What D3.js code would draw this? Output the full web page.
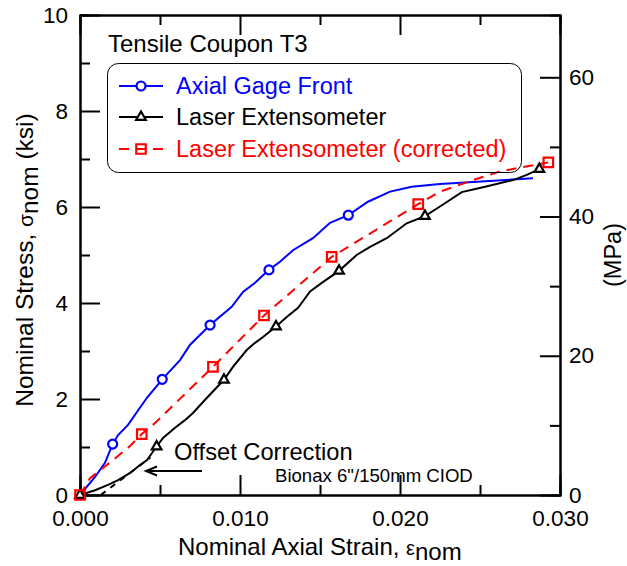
<!DOCTYPE html>
<html>
<head>
<meta charset="utf-8">
<script src="https://cdn.jsdelivr.net/npm/d3@7"></script>
<style>
  body { margin: 0; background: #fff; }
  svg { font-family: "Liberation Sans", Arial, sans-serif; }
</style>
</head>
<body>
<svg id="chart" width="627" height="566"></svg>
<script>
// strain (in/in), stress (ksi)
const gageFront = [
  [0, 0], [0.00094, 0.375], [0.00156, 0.67], [0.00204, 1.06], [0.00238, 1.25],
  [0.0030, 1.46], [0.00417, 2.02], [0.00514, 2.41], [0.00625, 2.81], [0.00688, 3.13],
  [0.00813, 3.54], [0.00948, 3.92], [0.01019, 4.23], [0.01094, 4.42], [0.01181, 4.69],
  [0.0125, 4.86], [0.01331, 5.10], [0.01456, 5.35], [0.01563, 5.67], [0.01677, 5.83],
  [0.018, 6.11], [0.01938, 6.32], [0.02073, 6.42], [0.0225, 6.48], [0.02456, 6.52],
  [0.02831, 6.60],
];
const gageMarks = [[0.00204, 1.06], [0.00514, 2.41], [0.00813, 3.54], [0.01181, 4.69], [0.01677, 5.83]];

const laserExt = [
  [0, 0], [0.00094, 0.10], [0.00175, 0.21], [0.00238, 0.31], [0.00313, 0.46],
  [0.00375, 0.625], [0.00419, 0.73], [0.0045, 0.875], [0.00479, 1.01], [0.00519, 1.19],
  [0.00594, 1.40], [0.00656, 1.56], [0.00706, 1.71], [0.00792, 2.02], [0.009, 2.40],
  [0.00956, 2.67], [0.01042, 3.02], [0.01094, 3.17], [0.01144, 3.29], [0.01225, 3.51],
  [0.01292, 3.71], [0.01363, 3.90], [0.01438, 4.24], [0.01511, 4.42], [0.01619, 4.67],
  [0.01729, 5.00], [0.01813, 5.17], [0.01917, 5.35], [0.02042, 5.66], [0.02156, 5.81],
  [0.0225, 6.01], [0.02386, 6.31], [0.02519, 6.41], [0.02706, 6.56], [0.02792, 6.67],
  [0.02871, 6.79],
];
const laserMarks = [[0, 0], [0.00479, 1.01], [0.009, 2.40], [0.01225, 3.51], [0.01619, 4.67], [0.02156, 5.81], [0.02871, 6.79]];

const laserCorr = [
  [0, 0], [0.000625, 0.35], [0.002, 0.71], [0.003125, 1.02], [0.00386, 1.27],
  [0.00469, 1.50], [0.00831, 2.67], [0.0115, 3.74], [0.01573, 4.96], [0.02114, 6.06],
  [0.0225, 6.32], [0.02456, 6.56], [0.02625, 6.74], [0.0275, 6.82], [0.02927, 6.93],
];
const corrMarks = [[0, 0], [0.00386, 1.27], [0.00831, 2.67], [0.0115, 3.74], [0.01573, 4.96], [0.02114, 6.06], [0.02927, 6.93]];

// dashed offset line, laser curve shifted back to zero
const offsetLine = [[0.0013, 0], [0.0044, 0.78]];

const xMajor = [0, 0.01, 0.02, 0.03];
const xMinor = [0.005, 0.015, 0.025];
const yMajor = [0, 2, 4, 6, 8, 10];
const yMinor = [1, 3, 5, 7, 9];
const mpaMajor = [0, 20, 40, 60];
const mpaMinor = [10, 30, 50];
const legendLabels = ['Axial Gage Front', 'Laser Extensometer', 'Laser Extensometer (corrected)'];
const KSI_TO_MPA = 6.89476;

const svg = d3.select('#chart');
const margin = { left: 80, right: 560, top: 15, bottom: 495 };

const x = d3.scaleLinear([0, 0.03], [margin.left, margin.right]);
const y = d3.scaleLinear([0, 10], [margin.bottom, margin.top]);
const yMpa = d3.scaleLinear([0, 10 * KSI_TO_MPA], [margin.bottom, margin.top]);

const styleAxis = (g) => g
  .call((a) => a.select('.domain').attr('stroke-width', 2))
  .call((a) => a.selectAll('.tick line').attr('stroke-width', 2))
  .call((a) => a.selectAll('.tick text')
    .attr('font-size', 22.5)
    .attr('font-family', '"Liberation Sans", Arial, sans-serif')
    .attr('fill', '#000'));

// minor ticks first
svg.append('g').attr('transform', `translate(0,${margin.bottom})`)
  .call(d3.axisBottom(x).tickValues(xMinor).tickSize(-10).tickFormat(''))
  .call(styleAxis);
svg.append('g').attr('transform', `translate(0,${margin.top})`)
  .call(d3.axisTop(x).tickValues(xMinor).tickSize(-10).tickFormat(''))
  .call(styleAxis);
svg.append('g').attr('transform', `translate(${margin.left},0)`)
  .call(d3.axisLeft(y).tickValues(yMinor).tickSize(-10).tickFormat(''))
  .call(styleAxis);
svg.append('g').attr('transform', `translate(${margin.right},0)`)
  .call(d3.axisRight(yMpa).tickValues(mpaMinor).tickSize(-10).tickFormat(''))
  .call(styleAxis);

// major ticks + labels
svg.append('g').attr('transform', `translate(0,${margin.bottom})`)
  .call(d3.axisBottom(x).tickValues(xMajor).tickSizeInner(-20).tickSizeOuter(0)
    .tickPadding(15).tickFormat(d3.format('.3f')))
  .call(styleAxis);
svg.append('g').attr('transform', `translate(0,${margin.top})`)
  .call(d3.axisTop(x).tickValues(xMajor).tickSizeInner(-20).tickSizeOuter(0).tickFormat(''))
  .call(styleAxis);
svg.append('g').attr('transform', `translate(${margin.left},0)`)
  .call(d3.axisLeft(y).tickValues(yMajor).tickSizeInner(-20).tickSizeOuter(0).tickPadding(12))
  .call(styleAxis);
svg.append('g').attr('transform', `translate(${margin.right},0)`)
  .call(d3.axisRight(yMpa).tickValues(mpaMajor).tickSizeInner(-20).tickSizeOuter(0).tickPadding(9))
  .call(styleAxis);

// axis titles
svg.append('text')
  .attr('x', 178).attr('y', 555)
  .attr('font-size', 24)
  .call((t) => t.append('tspan').text('Nominal Axial Strain, '))
  .call((t) => t.append('tspan').attr('font-size', 20).text('ε'))
  .call((t) => t.append('tspan').attr('dy', 5).text('nom'));

svg.append('text')
  .attr('transform', 'translate(33,260) rotate(-90)')
  .attr('text-anchor', 'middle')
  .attr('font-size', 24.5)
  .call((t) => t.append('tspan').text('Nominal Stress, '))
  .call((t) => t.append('tspan').attr('font-size', 21).text('σ'))
  .call((t) => t.append('tspan').attr('dy', 5).text('nom'))
  .call((t) => t.append('tspan').attr('dy', -5).text(' (ksi)'));

svg.append('text')
  .attr('transform', 'translate(621,255) rotate(-90)')
  .attr('text-anchor', 'middle')
  .attr('font-size', 23.5)
  .text('(MPa)');

// curves
const line = d3.line().x((d) => x(d[0])).y((d) => y(d[1]));

svg.append('path')
  .datum(offsetLine)
  .attr('d', line)
  .attr('fill', 'none')
  .attr('stroke', '#000')
  .attr('stroke-width', 2)
  .attr('stroke-dasharray', '6,6');

svg.append('path')
  .datum(gageFront)
  .attr('d', line)
  .attr('fill', 'none')
  .attr('stroke', '#0000ff')
  .attr('stroke-width', 2);

svg.append('path')
  .datum(laserExt)
  .attr('d', line)
  .attr('fill', 'none')
  .attr('stroke', '#000')
  .attr('stroke-width', 2);

svg.append('path')
  .datum(laserCorr)
  .attr('d', line)
  .attr('fill', 'none')
  .attr('stroke', '#ff0000')
  .attr('stroke-width', 2)
  .attr('stroke-dasharray', '10,7');

// markers
const marks = [
  { data: gageMarks, sym: d3.symbolCircle, size: 64, color: '#0000ff', fill: '#fff' },
  { data: laserMarks, sym: d3.symbolTriangle, size: 40, color: '#000', fill: '#fff' },
  { data: corrMarks, sym: d3.symbolSquare, size: 90, color: '#ff0000', fill: 'none' },
];
marks.forEach((m) => {
  svg.append('g')
    .selectAll('path')
    .data(m.data)
    .join('path')
    .attr('transform', (d) => `translate(${x(d[0])},${y(d[1])})`)
    .attr('d', d3.symbol(m.sym, m.size))
    .attr('fill', m.fill)
    .attr('stroke', m.color)
    .attr('stroke-width', 2.2);
});

// title + legend
svg.append('text')
  .attr('x', 108).attr('y', 52)
  .attr('font-size', 24)
  .text('Tensile Coupon T3');

svg.append('rect')
  .attr('x', 107.5).attr('y', 63.5)
  .attr('width', 414).attr('height', 109)
  .attr('rx', 11)
  .attr('fill', 'none')
  .attr('stroke', '#000')
  .attr('stroke-width', 1);

const legendRows = [86, 117, 149];
legendLabels.forEach((label, i) => {
  const m = marks[i];
  const ly = legendRows[i];
  svg.append('line')
    .attr('x1', 119).attr('x2', 163)
    .attr('y1', ly).attr('y2', ly)
    .attr('stroke', m.color)
    .attr('stroke-width', 2)
    .attr('stroke-dasharray', i === 2 ? '10,7' : null);
  svg.append('path')
    .attr('transform', `translate(141,${ly})`)
    .attr('d', d3.symbol(m.sym, m.size))
    .attr('fill', m.fill === 'none' ? 'none' : '#fff')
    .attr('stroke', m.color)
    .attr('stroke-width', 2.2);
  svg.append('text')
    .attr('x', 176).attr('y', ly)
    .attr('dy', '0.36em')
    .attr('font-size', 23.5)
    .attr('fill', i === 1 ? '#000' : m.color)
    .text(label);
});

// offset annotation
svg.append('text')
  .attr('x', 174).attr('y', 460)
  .attr('font-size', 23.7)
  .text('Offset Correction');
svg.append('text')
  .attr('x', 275).attr('y', 482)
  .attr('font-size', 18.6)
  .text('Bionax 6"/150mm CIOD');
svg.append('path')
  .attr('d', 'M202,471 L146,471 M157,466.5 L146,471 L157,475.5')
  .attr('fill', 'none')
  .attr('stroke', '#000')
  .attr('stroke-width', 2);
</script>
</body>
</html>
